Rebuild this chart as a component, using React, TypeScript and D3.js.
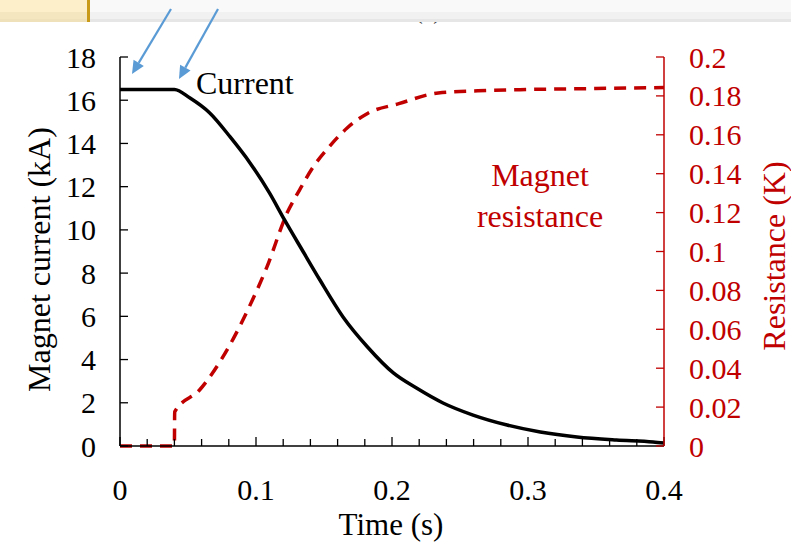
import React from "react";
import * as d3 from "d3";

const timeI = [0, 0.04, 0.0515, 0.066, 0.081, 0.0956, 0.11, 0.121, 0.1346, 0.147, 0.164, 0.182, 0.201, 0.218, 0.2375, 0.2596, 0.2846, 0.309, 0.336, 0.365, 0.392, 0.4];
const currentKA = [16.5, 16.5, 16.1, 15.41, 14.3, 13.1, 11.7, 10.46, 9.0, 7.68, 5.97, 4.58, 3.38, 2.68, 1.99, 1.43, 0.97, 0.65, 0.42, 0.28, 0.19, 0.14];

const timeR = [0, 0.04, 0.0402, 0.0585, 0.08, 0.095, 0.108, 0.123, 0.132, 0.142, 0.154, 0.167, 0.182, 0.205, 0.234, 0.27, 0.3, 0.35, 0.4];
const resistance = [0, 0, 0.0175, 0.0288, 0.051, 0.0715, 0.092, 0.12, 0.1316, 0.1434, 0.154, 0.1635, 0.171, 0.176, 0.1815, 0.1828, 0.1833, 0.1838, 0.1843];

const xTicks = [0, 0.1, 0.2, 0.3, 0.4];
const xMinor = d3.range(0, 0.4001, 0.02);
const yLeftTicks = [0, 2, 4, 6, 8, 10, 12, 14, 16, 18];
const yRightTicks = [0, 0.02, 0.04, 0.06, 0.08, 0.1, 0.12, 0.14, 0.16, 0.18, 0.2];

const W = 791, H = 545;
const L = 120, R = 664, T = 57, B = 446;
const RED = "#c00000";
const BLUE = "#5b9bd5";
const FONT = "'Liberation Serif', 'Times New Roman', serif";

export default function App() {
  const x = d3.scaleLinear().domain([0, 0.4]).range([L, R]);
  const yL = d3.scaleLinear().domain([0, 18]).range([B, T]);
  const yR = d3.scaleLinear().domain([0, 0.2]).range([B, T]);

  const lineI = d3.line<number>().x((d, i) => x(timeI[i])).y((d) => yL(d)).curve(d3.curveMonotoneX)(currentKA) || "";
  const lineR = d3.line<number>().x((d, i) => x(timeR[i])).y((d) => yR(d)).curve(d3.curveMonotoneX)(resistance) || "";

  const arrow = (x1: number, y1: number, x2: number, y2: number) => {
    const a = Math.atan2(y2 - y1, x2 - x1);
    const len = 13, wd = 6;
    const bx = x2 - len * Math.cos(a), by = y2 - len * Math.sin(a);
    const px = -Math.sin(a) * wd, py = Math.cos(a) * wd;
    return (
      <g>
        <line x1={x1} y1={y1} x2={bx} y2={by} stroke={BLUE} strokeWidth={2.2} />
        <polygon points={`${x2},${y2} ${bx + px},${by + py} ${bx - px},${by - py}`} fill={BLUE} />
      </g>
    );
  };

  return (
    <svg width={W} height={H} style={{ position: "absolute", left: 0, top: 0, background: "#fff" }} fontFamily={FONT}>
      <rect x={0} y={0} width={W} height={H} fill="#fff" />
      {/* partially hidden caption */}
      <text x={428} y={19} fontSize={24} textAnchor="middle" fill="#333">(a)</text>
      {/* top bar */}
      <rect x={0} y={0} width={W} height={12} fill="#f9f9f9" />
      <rect x={0} y={12} width={W} height={7} fill="#f1f1f1" />
      <rect x={0} y={19} width={W} height={3} fill="#e6e6e6" />
      <rect x={0} y={0} width={88} height={12} fill="#fdefc9" />
      <rect x={0} y={12} width={88} height={7} fill="#f4e6bf" />
      <rect x={0} y={19} width={88} height={3} fill="#efe1ba" />
      <rect x={87} y={0} width={3} height={22} fill="#c99a18" />

      {/* series */}
      <path d={lineR} fill="none" stroke={RED} strokeWidth={3.5} strokeDasharray="12 8" />
      <path d={lineI} fill="none" stroke="#000" strokeWidth={3.5} />

      {/* x axis */}
      <line x1={L} x2={R} y1={B} y2={B} stroke="#000" strokeWidth={1.5} />
      {xMinor.map((t, i) => (
        <line key={"m" + i} x1={x(t)} x2={x(t)} y1={B} y2={B - (i % 5 === 0 ? 9 : 7)} stroke="#000" strokeWidth={1.3} />
      ))}
      {xTicks.map((t) => (
        <text key={"xt" + t} x={x(t)} y={500} fontSize={30} textAnchor="middle" fill="#000">{t === 0 ? "0" : String(t)}</text>
      ))}
      <text x={391} y={535} fontSize={31} textAnchor="middle" fill="#000">Time (s)</text>

      {/* left axis */}
      <line x1={L} x2={L} y1={T} y2={B} stroke="#000" strokeWidth={1.5} />
      {yLeftTicks.map((v) => (
        <g key={"yl" + v}>
          <line x1={L} x2={L + 8} y1={yL(v)} y2={yL(v)} stroke="#000" strokeWidth={1.3} />
          <text x={96} y={yL(v)} dy="0.35em" fontSize={30} textAnchor="end" fill="#000">{v}</text>
        </g>
      ))}
      <text transform={`translate(50,${(T + B) / 2 + 8}) rotate(-90)`} fontSize={32} textAnchor="middle" fill="#000">Magnet current (kA)</text>

      {/* right axis */}
      <line x1={R} x2={R} y1={T} y2={B} stroke={RED} strokeWidth={1.5} />
      {yRightTicks.map((v) => (
        <g key={"yr" + v}>
          <line x1={R} x2={R - 8} y1={yR(v)} y2={yR(v)} stroke={RED} strokeWidth={1.3} />
          <text x={689} y={yR(v)} dy="0.35em" fontSize={30} textAnchor="start" fill={RED}>{String(v)}</text>
        </g>
      ))}
      <text transform={`translate(785,${256}) rotate(-90)`} fontSize={32} textAnchor="middle" fill={RED}>Resistance (K)</text>

      {/* annotations */}
      <text x={196} y={94} fontSize={32} fill="#000">Current</text>
      <text x={540} y={186} fontSize={32} textAnchor="middle" fill={RED}>Magnet</text>
      <text x={540} y={227} fontSize={32} textAnchor="middle" fill={RED}>resistance</text>

      {arrow(171, 9, 132, 74)}
      {arrow(218, 9, 179, 79)}
    </svg>
  );
}
